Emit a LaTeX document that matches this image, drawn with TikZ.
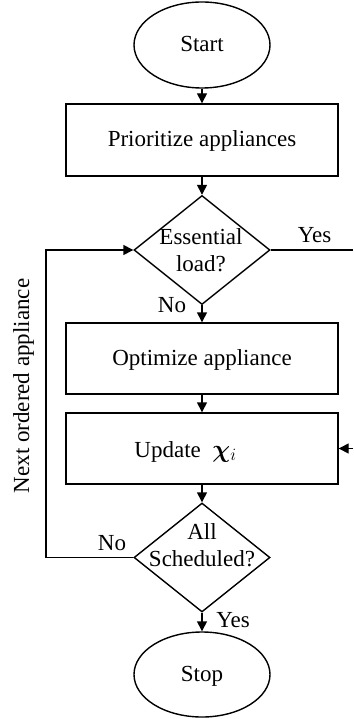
\documentclass[tikz,border=0pt]{standalone}
\usepackage{fontspec}
\setmainfont{Liberation Serif}
\usepackage{bm}
\usetikzlibrary{shapes.geometric,arrows.meta}

\begin{document}
\begin{tikzpicture}[x=1pt,y=-1pt,
  every node/.style={font=\fontsize{23}{27}\selectfont, inner sep=0pt},
  conn/.style={line width=1.4pt},
  arr/.style={conn, -{Triangle[length=10pt,width=10pt]}},
  term/.style={draw, line width=1.4pt, ellipse, minimum width=136pt, minimum height=86pt, text height=15pt, text depth=1pt},
  procbox/.style={draw, line width=1.4pt, rectangle, minimum width=272pt, minimum height=71pt, text height=15pt, text depth=2pt},
  decision/.style={draw, line width=1.4pt, diamond, minimum width=136pt, minimum height=109pt},
  lbl/.style={anchor=base, align=center}
]
\useasboundingbox (0,0) rectangle (353,719);

% frame of the flow
\node[term] (start) at (202,45) {Start};
\node[procbox, minimum height=72pt] (prio) at (202,140) {Prioritize appliances};
\node[decision] (ess) at (202,250) {};
\node[procbox] (opt) at (202,358.5) {Optimize appliance};
\node[procbox] (upd) at (202,448.5) {};
\node[decision] (all) at (202,557.5) {};
\node[term, minimum height=85pt] (stop) at (202,674.5) {Stop};

% texts set inside the diamonds and the update box (base = last line)
\node[lbl] (esstxt) at (201,271) {Essential\\load?};
\node[lbl] (alltxt) at (202,566) {All\\Scheduled?};
\node[lbl] (updtxt) at (185.5,457) {Update \ $\bm{\chi}_{i}$};

% helper points for the loop and the right-hand branch
\coordinate (loopx) at (46,0);
\coordinate (edge) at (353,0);

% main downward flow
\draw[arr] (start) -- (prio);
\draw[arr] (prio) -- (ess.north);
\draw[arr] (ess.south) -- (opt);
\draw[arr] (opt) -- (upd);
\draw[arr] (upd) -- (all.north);
\draw[arr] (all.south) -- (stop);

% loop back to the next appliance
\draw[arr] (all.west) -- (all.west -| loopx) |- (ess.west);

% essential-load branch on the right
\draw[conn] (ess.east) -- (ess.east -| edge);
\draw[arr] (upd.east -| edge) -- (upd.east);

% branch labels
\node[anchor=base] (yes1) at (314.5,242) {Yes};
\node[anchor=base] (no1) at (172,312) {No};
\node[anchor=base] (no2) at (112,550) {No};
\node[anchor=base] (yes2) at (233,627) {Yes};
\node[anchor=base, rotate=90] (next) at (29,386) {Next ordered appliance};
\end{tikzpicture}
\end{document}
